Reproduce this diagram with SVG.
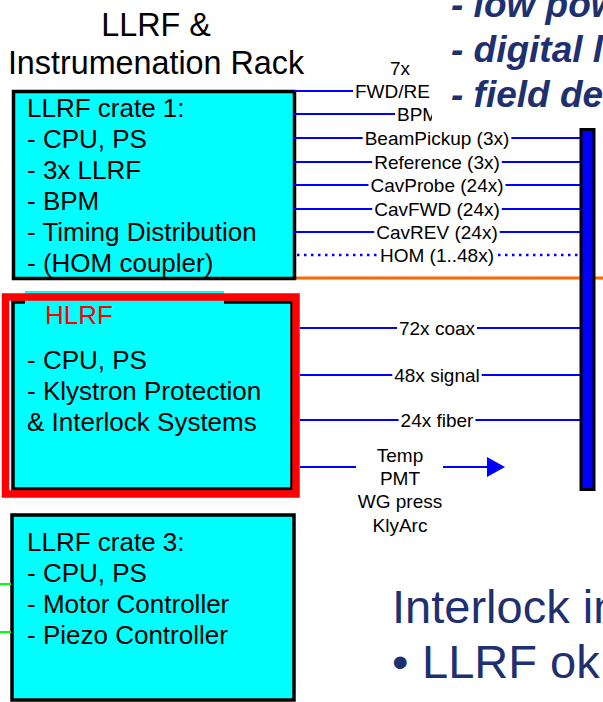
<svg xmlns="http://www.w3.org/2000/svg" width="603" height="702" viewBox="0 0 603 702">
<style>
.box{fill:#00FFFF;stroke:#000;stroke-width:3.5}
.t{font-family:"Liberation Sans",Arial,sans-serif;font-size:26px;fill:#000}
.lbl{font-family:"Liberation Sans",Arial,sans-serif;font-size:19px;fill:#000;text-anchor:middle}
.ln{stroke:#0000FF;stroke-width:2;fill:none}
.dot{stroke:#0000FF;stroke-width:2.5;fill:none;stroke-dasharray:2.5 4.5}
.navy{font-family:"Liberation Sans",Arial,sans-serif;fill:#1F3070}
.bi{font-size:37px;font-weight:bold;font-style:italic}
</style>
<rect width="603" height="702" fill="#fff"/>
<g id="title">
<text class="t" style="font-size:32.3px" x="156" y="36" text-anchor="middle">LLRF &amp;</text>
<text class="t" style="font-size:32.3px" x="156" y="74" text-anchor="middle">Instrumenation Rack</text>
</g>
<g id="orange-line"><line x1="294" y1="278" x2="603" y2="278" stroke="#FF6600" stroke-width="3"/></g>
<g id="crate1">
<rect class="box" x="13.5" y="91.5" width="281" height="187"/>
<text class="t" x="27" y="117">LLRF crate 1:</text>
<text class="t" x="27" y="148">- CPU, PS</text>
<text class="t" x="27" y="179">- 3x LLRF</text>
<text class="t" x="27" y="210">- BPM</text>
<text class="t" x="27" y="241">- Timing Distribution</text>
<text class="t" x="27" y="272">- (HOM coupler)</text>
</g>
<g id="hlrf">
<rect class="box" x="13" y="302" width="279" height="187"/>
<rect x="25" y="291" width="199" height="40" fill="#00FFFF"/>
<rect x="5.5" y="297" width="290.5" height="197" fill="none" stroke="#FF0000" stroke-width="7.5"/>
<text class="t" x="45" y="324" style="fill:#FF0000">HLRF</text>
<text class="t" x="27" y="369">- CPU, PS</text>
<text class="t" x="27" y="400">- Klystron Protection</text>
<text class="t" x="27" y="431">&amp; Interlock Systems</text>
</g>
<g id="crate3">
<rect class="box" x="12" y="515" width="282" height="185"/>
<text class="t" x="27" y="551">LLRF crate 3:</text>
<text class="t" x="27" y="582">- CPU, PS</text>
<text class="t" x="27" y="613">- Motor Controller</text>
<text class="t" x="27" y="644">- Piezo Controller</text>
</g>
<g id="connectors">
<line class="ln" x1="294" y1="91" x2="353" y2="91"/>
<line class="ln" x1="294" y1="114" x2="395" y2="114"/>
<line class="ln" x1="294" y1="138" x2="362.7" y2="138"/><line class="ln" x1="511.3" y1="138" x2="581" y2="138"/>
<line class="ln" x1="294" y1="162" x2="372.2" y2="162"/><line class="ln" x1="501.8" y1="162" x2="581" y2="162"/>
<line class="ln" x1="294" y1="185" x2="368.5" y2="185"/><line class="ln" x1="505.5" y1="185" x2="581" y2="185"/>
<line class="ln" x1="294" y1="209" x2="372.2" y2="209"/><line class="ln" x1="501.8" y1="209" x2="581" y2="209"/>
<line class="ln" x1="294" y1="232" x2="374.3" y2="232"/><line class="ln" x1="499.7" y1="232" x2="581" y2="232"/>
<line class="dot" x1="297" y1="255" x2="378" y2="255"/><line class="dot" x1="498" y1="255" x2="581" y2="255"/>
<line class="ln" x1="300" y1="328" x2="397" y2="328"/><line class="ln" x1="477" y1="328" x2="581" y2="328"/>
<line class="ln" x1="300" y1="375" x2="392.3" y2="375"/><line class="ln" x1="481.7" y1="375" x2="581" y2="375"/>
<line class="ln" x1="300" y1="420" x2="398.6" y2="420"/><line class="ln" x1="475.4" y1="420" x2="581" y2="420"/>
<line class="ln" x1="300" y1="467" x2="356" y2="467"/>
<line class="ln" x1="443" y1="467" x2="488" y2="467"/>
<polygon points="487,457 505,467 487,477" fill="#0000FF"/>
<line x1="0" y1="584" x2="11" y2="584" stroke="#00FF00" stroke-width="2"/>
<line x1="0" y1="632" x2="11" y2="632" stroke="#00FF00" stroke-width="2"/>
<text class="lbl" x="400" y="75">7x</text>
<text class="lbl" x="355" y="97.5" style="text-anchor:start">FWD/RE</text>
<text class="lbl" x="397" y="120.5" style="text-anchor:start">BPM</text>
<text class="lbl" x="437" y="144.5">BeamPickup (3x)</text>
<text class="lbl" x="437" y="168.5">Reference (3x)</text>
<text class="lbl" x="437" y="191.5">CavProbe (24x)</text>
<text class="lbl" x="437" y="215.5">CavFWD (24x)</text>
<text class="lbl" x="437" y="238.5">CavREV (24x)</text>
<text class="lbl" x="437" y="261.5">HOM (1..48x)</text>
<text class="lbl" x="437" y="334.5">72x coax</text>
<text class="lbl" x="437" y="381.5">48x signal</text>
<text class="lbl" x="437" y="426.5">24x fiber</text>
<text class="lbl" x="400" y="462">Temp</text>
<text class="lbl" x="400" y="485">PMT</text>
<text class="lbl" x="400" y="508">WG press</text>
<text class="lbl" x="400" y="531.5">KlyArc</text>
</g>
<g id="bus">
<rect x="581" y="129.5" width="13" height="360" fill="#0000FF" stroke="#000" stroke-width="3"/>
</g>
<g id="slide-text">
<rect x="432" y="0" width="171" height="123" fill="#fff"/>
<text class="navy bi" x="451" y="17">- low pow</text>
<text class="navy bi" x="451" y="62">- digital l</text>
<text class="navy bi" x="451" y="107">- field de</text>
<text class="navy" x="392" y="623" font-size="47">Interlock in</text>
<text class="navy" x="392" y="678" font-size="47">•</text>
<text class="navy" x="422" y="678" font-size="47">LLRF ok</text>
</g>
</svg>
